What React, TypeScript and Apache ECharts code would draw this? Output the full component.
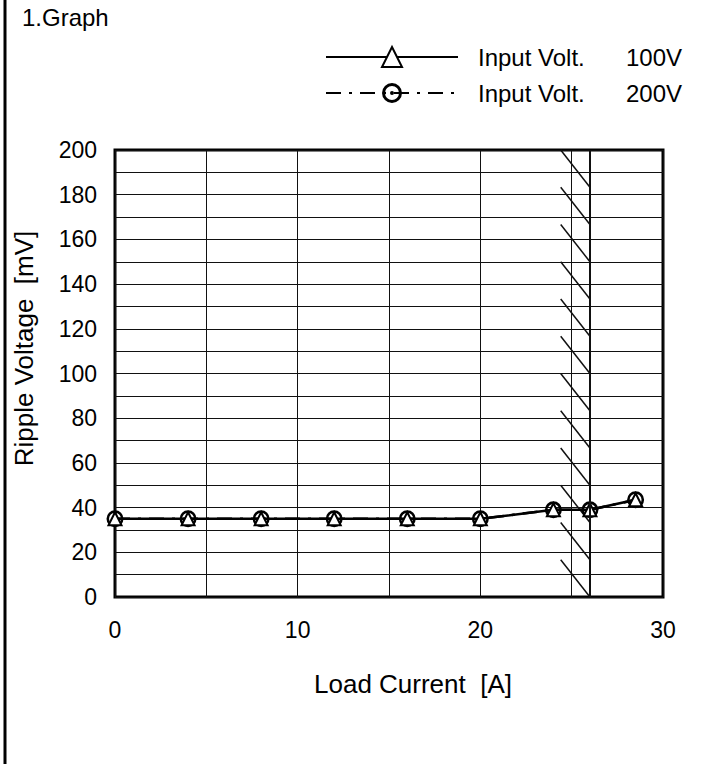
import React, { useEffect, useRef } from "react";
import * as echarts from "echarts";

const FONT = "'Liberation Sans', Arial, sans-serif";

const loadCurrent = [0, 4, 8, 12, 16, 20, 24, 26, 28.5];
const ripple100V = [35, 35, 35, 35, 35, 35, 39, 39, 43.5];
const ripple200V = [35, 35, 35, 35, 35, 35, 39, 39, 43.5];
const seriesNames = ["Input Volt. 100V", "Input Volt. 200V"];
const xTickLabels = [0, 10, 20, 30];
const yTickLabels = [0, 20, 40, 60, 80, 100, 120, 140, 160, 180, 200];
const hatchTops = [200, 183.33, 166.67, 150, 133.33, 116.67, 100, 83.33, 66.67, 50, 33.33, 16.67];
const hatchLeft = 24.4;
const hatchRight = 26;
const hatchStep = 16.67;

const ringDot =
  "path://M0,-10A10,10 0 1,1 0,10A10,10 0 1,1 0,-10Z M0,-7A7,7 0 1,0 0,7A7,7 0 1,0 0,-7Z M0,-2A2,2 0 1,1 0,2A2,2 0 1,1 0,-2Z";

export default function App() {
  const ref = useRef<HTMLDivElement>(null);
  useEffect(() => {
    document.body.style.margin = "0";
    const chart = echarts.init(ref.current!, null, { renderer: "svg" });
    const pts = (ys: number[]) => loadCurrent.map((x, i) => [x, ys[i]]);
    chart.setOption({
      animation: false,
      backgroundColor: "#fff",
      textStyle: { fontFamily: FONT, color: "#000" },
      grid: {
        left: 115,
        right: 44,
        top: 150,
        bottom: 167,
        show: true,
        borderColor: "#000",
        borderWidth: 3,
        backgroundColor: "transparent",
      },
      legend: {
        left: 320,
        top: 40,
        orient: "vertical",
        itemWidth: 132,
        itemHeight: 25,
        itemGap: 12,
        data: seriesNames,
        formatter: (name: string) => {
          const parts = name.split(" ");
          const v = parts.pop();
          return `{s|}{a|${parts.join(" ")}}{b|${v}}`;
        },
        textStyle: {
          fontFamily: FONT,
          fontSize: 24,
          color: "#000",
          rich: {
            s: { width: 15 },
            a: { width: 148, fontSize: 24, fontFamily: FONT },
            b: { fontSize: 24, fontFamily: FONT },
          },
        },
      },
      graphic: [
        {
          type: "line",
          shape: { x1: 5, y1: 0, x2: 5, y2: 764 },
          style: { stroke: "#000", lineWidth: 3 },
        },
        {
          type: "text",
          left: 22,
          top: 5,
          style: { text: "1.Graph", font: `24px ${FONT}`, fill: "#000" },
        },
      ],
      xAxis: {
        type: "value",
        min: 0,
        max: 30,
        interval: 5,
        name: "Load Current  [A]",
        nameLocation: "middle",
        nameGap: 74,
        nameTextStyle: { fontSize: 26, fontFamily: FONT, color: "#000", padding: [0, 0, 0, 48] },
        axisLine: { show: false },
        axisTick: { show: false },
        axisLabel: {
          fontSize: 23,
          fontFamily: FONT,
          color: "#000",
          margin: 21,
          formatter: (v: number) => (xTickLabels.includes(v) ? String(v) : ""),
        },
        splitLine: { show: true, lineStyle: { color: "#111", width: 1 } },
      },
      yAxis: {
        type: "value",
        min: 0,
        max: 200,
        interval: 10,
        name: "Ripple Voltage  [mV]",
        nameLocation: "middle",
        nameGap: 78,
        nameTextStyle: { fontSize: 26, fontFamily: FONT, color: "#000", padding: [0, 0, 0, 50] },
        axisLine: { show: false },
        axisTick: { show: false },
        axisLabel: {
          fontSize: 23,
          fontFamily: FONT,
          color: "#000",
          margin: 18,
          formatter: (v: number) => (yTickLabels.includes(v) ? String(v) : ""),
        },
        splitLine: { show: true, lineStyle: { color: "#111", width: 1 } },
      },
      series: [
        {
          type: "custom",
          name: "hatch",
          silent: true,
          data: hatchTops.map((t) => [t]),
          renderItem: (params: any, api: any) => {
            const t = api.value(0);
            const p1 = api.coord([hatchLeft, t]);
            const p2 = api.coord([hatchRight, t - hatchStep]);
            return {
              type: "line",
              shape: { x1: p1[0], y1: p1[1], x2: p2[0], y2: p2[1] },
              style: { stroke: "#111", lineWidth: 1.5 },
            };
          },
          markLine: {
            silent: true,
            symbol: "none",
            label: { show: false },
            lineStyle: { color: "#111", width: 2, type: "solid" },
            data: [{ xAxis: hatchRight }],
          },
          z: 1,
        },
        {
          type: "line",
          name: seriesNames[1],
          data: pts(ripple200V),
          symbol: ringDot,
          symbolSize: 17,
          itemStyle: { color: "#000" },
          lineStyle: { color: "#000", width: 2.5, type: [15, 8, 3, 8] },
          z: 3,
        },
        {
          type: "line",
          name: seriesNames[0],
          data: pts(ripple100V),
          symbol: "emptyTriangle",
          symbolSize: 13,
          itemStyle: { color: "#000", borderColor: "#000", borderWidth: 2.5 },
          lineStyle: { color: "#000", width: 2.5 },
          z: 4,
        },
      ],
    });
    return () => chart.dispose();
  }, []);
  return <div ref={ref} style={{ width: 707, height: 764 }} />;
}
